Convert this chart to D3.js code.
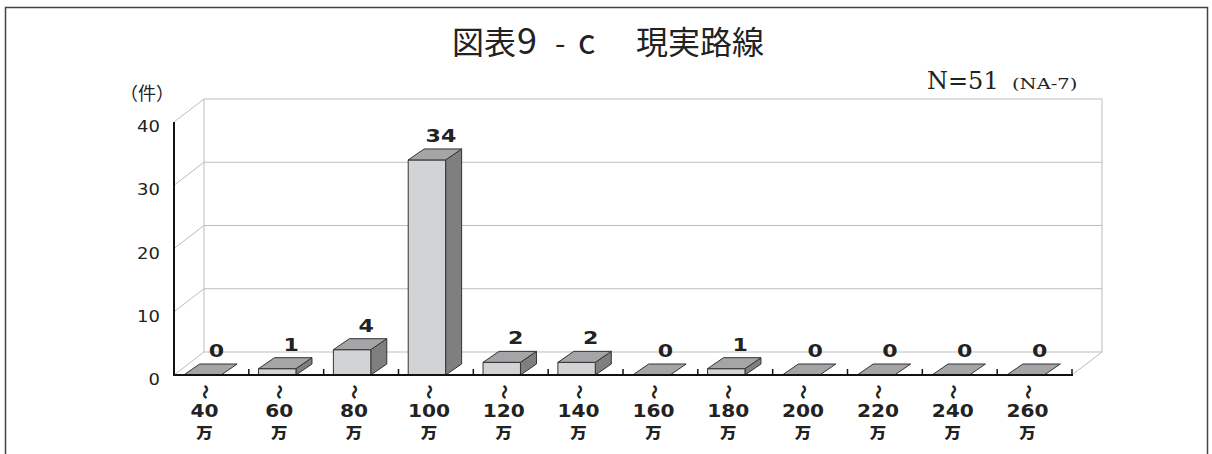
<!DOCTYPE html>
<html>
<head>
<meta charset="utf-8">
<script src="https://cdn.jsdelivr.net/npm/d3@7"></script>
<style>
  html, body { margin: 0; padding: 0; background: #fff; }
  svg { display: block; }
</style>
</head>
<body>
<svg id="chart" width="1212" height="454"></svg>
<script>
// Income brackets (lower bound label, in 万円) and number of responses
const categories = ["40", "60", "80", "100", "120", "140", "160", "180", "200", "220", "240", "260"];
const counts = [0, 1, 4, 34, 2, 2, 0, 1, 0, 0, 0, 0];
const yTicks = [0, 10, 20, 30, 40];
const titleParts = ["図表", "9", "-", "c", "現実路線"];
const unitLabel = "（件）";
const sampleLabel = "N=51";
const naLabel = "(NA-7)";

const svg = d3.select("#chart");

// Front plane of the 3D plot box
const plotLeft = 174, plotRight = 1072, plotBottom = 375, plotTop = 122;
// Depth offset of the back wall and of each bar
const wdx = 30, wdy = -23;
const bdx = 16, bdy = -11;

const x = d3.scaleBand().domain(categories).range([plotLeft, plotRight])
  .paddingInner(0.5).paddingOuter(0.25);
const y = d3.scaleLinear().domain([0, 40]).range([plotBottom, plotTop]);
const bw = x.bandwidth();
const barLeft = c => x(c) - 9;

// Outer frame
svg.append("rect").attr("x", 5.5).attr("y", 7.5).attr("width", 1202).attr("height", 470)
  .attr("fill", "#fff").attr("stroke", "#444").attr("stroke-width", 1.5);

// Title
const title = svg.append("text").attr("y", 54).attr("fill", "#222")
  .style("font-family", "'Noto Sans CJK JP', sans-serif");
const titleX = [452, 517, 555, 578, 636];
const titleSize = [32, 36, 30, 34, 32];
titleParts.forEach((t, i) => {
  title.append("tspan").attr("x", titleX[i]).style("font-size", titleSize[i] + "px").text(t);
});

// Back wall + left wall gridlines
const grid = svg.append("g").attr("stroke", "#bdbdbd").attr("stroke-width", 1).attr("fill", "none");
grid.selectAll("line.h").data(yTicks).join("line")
  .attr("x1", plotLeft + wdx).attr("x2", plotRight + wdx)
  .attr("y1", d => y(d) + wdy).attr("y2", d => y(d) + wdy);
grid.selectAll("line.d").data(yTicks).join("line")
  .attr("x1", plotLeft).attr("y1", d => y(d))
  .attr("x2", plotLeft + wdx).attr("y2", d => y(d) + wdy);
grid.append("line").attr("x1", plotLeft + wdx).attr("x2", plotLeft + wdx)
  .attr("y1", y(0) + wdy).attr("y2", y(40) + wdy);
grid.append("line").attr("x1", plotRight + wdx).attr("x2", plotRight + wdx)
  .attr("y1", y(0) + wdy).attr("y2", y(40) + wdy);
grid.append("line").attr("x1", plotRight).attr("y1", y(0))
  .attr("x2", plotRight + wdx).attr("y2", y(0) + wdy);

// 3D bars
const bars = svg.append("g").attr("stroke", "#333").attr("stroke-width", 1).attr("stroke-linejoin", "round");
categories.forEach((c, i) => {
  const v = counts[i];
  const x0 = barLeft(c), x1 = x0 + bw;
  const y0 = y(0), y1 = y(v);
  const g = bars.append("g");
  if (v > 0) {
    // side face
    g.append("path").attr("fill", "#7f7f7f")
      .attr("d", `M${x1},${y0}L${x1 + bdx},${y0 + bdy}L${x1 + bdx},${y1 + bdy}L${x1},${y1}Z`);
    // front face
    g.append("path").attr("fill", "#d2d3d5")
      .attr("d", `M${x0},${y0}L${x1},${y0}L${x1},${y1}L${x0},${y1}Z`);
  }
  // top face
  g.append("path").attr("fill", "#a5a5a7")
    .attr("d", `M${x0},${y1}L${x1},${y1}L${x1 + bdx},${y1 + bdy}L${x0 + bdx},${y1 + bdy}Z`);
});

// Front axes
svg.append("line").attr("x1", plotLeft).attr("x2", plotLeft).attr("y1", y(40)).attr("y2", y(0) + 1)
  .attr("stroke", "#111").attr("stroke-width", 2);
svg.append("line").attr("x1", plotLeft).attr("x2", plotRight + 1).attr("y1", y(0)).attr("y2", y(0))
  .attr("stroke", "#111").attr("stroke-width", 2);
svg.selectAll("line.xtick").data(d3.range(1, categories.length + 1)).join("line")
  .attr("x1", k => plotLeft + k * x.step()).attr("x2", k => plotLeft + k * x.step())
  .attr("y1", y(0) - 6).attr("y2", y(0))
  .attr("stroke", "#111").attr("stroke-width", 1.5);

// Y tick labels
svg.selectAll("text.ytick").data(yTicks).join("text")
  .attr("transform", d => `translate(160,${y(d) + 10}) scale(1.2,1)`)
  .attr("text-anchor", "end")
  .style("font-family", "'DejaVu Sans', sans-serif").style("font-size", "15px")
  .attr("fill", "#222").text(d => d);

// Unit label
svg.append("text").attr("x", 147).attr("y", 100).attr("text-anchor", "middle")
  .style("font-family", "'Noto Sans CJK JP', sans-serif").style("font-size", "18px")
  .attr("fill", "#222").text(unitLabel);

// Sample size
svg.append("text").attr("x", 927).attr("y", 89)
  .style("font-family", "'DejaVu Serif', serif").style("font-size", "24px")
  .attr("fill", "#222").text(sampleLabel);
svg.append("text").attr("transform", "translate(1012,89) scale(1.3,1)")
  .style("font-family", "'DejaVu Serif', serif").style("font-size", "15px")
  .attr("fill", "#222").text(naLabel);

// Value labels above bars
svg.selectAll("text.val").data(categories).join("text")
  .attr("transform", (c, i) => `translate(${barLeft(c) + bw / 2 + bdx - 2},${y(counts[i]) + bdy - 7}) scale(1.3,1)`)
  .attr("text-anchor", "middle")
  .style("font-family", "'DejaVu Sans', sans-serif").style("font-size", "17px").style("font-weight", "bold")
  .attr("fill", "#222").text((c, i) => counts[i]);

// Category labels: vertical wave dash, then amount over 万
const catX = c => barLeft(c) + bw / 2 + 2;
const cat = svg.append("g").attr("fill", "#222");
cat.selectAll("text.wave").data(categories).join("text")
  .attr("transform", c => `translate(${catX(c)},392) rotate(90)`)
  .attr("text-anchor", "middle").attr("dy", "0.32em")
  .style("font-family", "'Noto Sans CJK JP', sans-serif").style("font-size", "15px").style("font-weight", "900")
  .text("〜");
cat.selectAll("text.num").data(categories).join("text")
  .attr("transform", c => `translate(${catX(c)},416.5) scale(1.12,1)`)
  .attr("text-anchor", "middle")
  .style("font-family", "'DejaVu Sans', sans-serif").style("font-size", "18px").style("font-weight", "bold")
  .text(c => c);
cat.selectAll("text.man").data(categories).join("text")
  .attr("transform", c => `translate(${catX(c)},438) scale(1.1,1)`)
  .attr("text-anchor", "middle")
  .style("font-family", "'Noto Sans CJK JP', sans-serif").style("font-size", "15px").style("font-weight", "900")
  .text("万");
</script>
</body>
</html>
